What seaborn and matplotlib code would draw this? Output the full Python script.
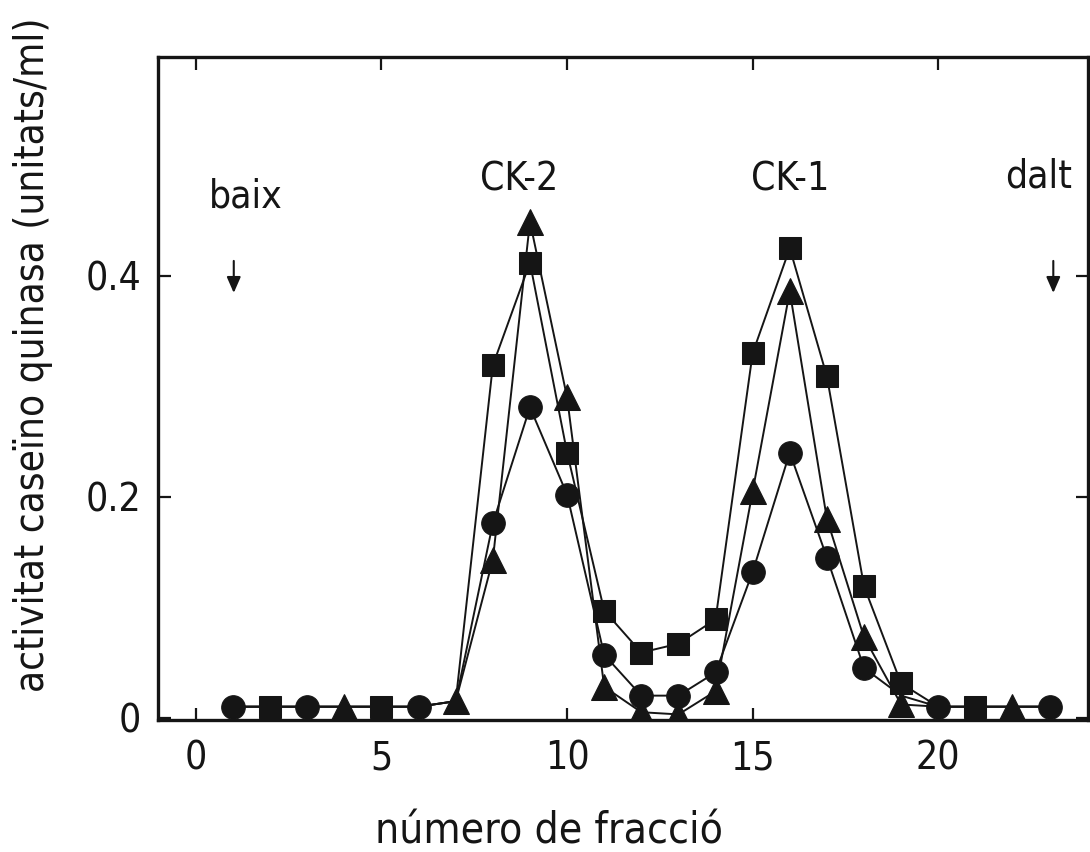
import matplotlib
matplotlib.use("Agg")
import matplotlib.pyplot as plt
import seaborn as sns
import pandas as pd
import numpy as np

# ---- data ----
fractions = list(range(1, 24))
quadrats = [0.010, 0.010, 0.010, 0.010, 0.010, 0.010, 0.015,
            0.319, 0.412, 0.240, 0.097, 0.059, 0.067, 0.089,
            0.330, 0.425, 0.309, 0.119, 0.031, 0.010, 0.010, 0.010, 0.010]
cercles = [0.010, 0.010, 0.010, 0.010, 0.010, 0.010, 0.015,
           0.176, 0.281, 0.202, 0.057, 0.020, 0.020, 0.041,
           0.132, 0.240, 0.145, 0.045, 0.020, 0.010, 0.010, 0.010, 0.010]
triangles = [0.010, 0.010, 0.010, 0.010, 0.010, 0.010, 0.015,
             0.143, 0.449, 0.290, 0.028, 0.005, 0.003, 0.024,
             0.205, 0.386, 0.180, 0.073, 0.012, 0.010, 0.010, 0.010, 0.010]
# fractions where each symbol is drawn (on the baseline only one symbol is shown)
punts_cercles = [1, 3, 6] + list(range(8, 19)) + [20, 23]
punts_quadrats = [2, 5] + list(range(8, 20)) + [21]
punts_triangles = [4, 7] + list(range(8, 20)) + [22]

xticks = [0, 5, 10, 15, 20]
yticks = [0, 0.2, 0.4]
ytick_labels = ["0", "0.2", "0.4"]
anotacions = [("baix", 1.35, 0.4715), ("CK-2", 8.7, 0.487), ("CK-1", 16.0, 0.487), ("dalt", 22.7, 0.490)]
fletxes = [1.02, 23.1]

sns.set_theme(style="ticks")
plt.rcParams['font.family'] = ['DejaVu Sans']
plt.rcParams['font.stretch'] = 'condensed'
ink = "#151515"

fig = plt.figure(figsize=(10.9, 8.52), dpi=100)
ax = fig.add_axes([0.145, 0.155, 0.853, 0.778])

df = pd.DataFrame({"fraccio": fractions, "quadrat": quadrats,
                   "cercle": cercles, "triangle": triangles})

series = [("cercle", "o", 17, punts_cercles),
          ("triangle", "^", 19, punts_triangles),
          ("quadrat", "s", 15.5, punts_quadrats)]
for col, mk, ms, pts in series:
    idx = [fractions.index(p) for p in pts]
    sns.lineplot(data=df, x="fraccio", y=col, ax=ax, color=ink, lw=1.4,
                 marker=mk, markersize=ms, markeredgecolor=ink,
                 markerfacecolor=ink, markevery=idx, sort=False)

ax.set_xlim(-1.02, 24.03)
ax.set_ylim(-0.002, 0.598)
ax.set_xticks(xticks)
ax.set_yticks(yticks)
ax.set_yticklabels(ytick_labels)
ax.tick_params(direction="in", length=9, width=1.6, color=ink,
               top=True, right=True, labelsize=28, labelcolor=ink)
ax.tick_params(axis="x", pad=14)
ax.tick_params(axis="y", pad=12)
for s in ax.spines.values():
    s.set_linewidth(2.4)
    s.set_color(ink)

ax.set_xlabel("número de fracció", fontsize=30.5, color=ink)
ax.xaxis.set_label_coords(0.42, -0.137)
ax.set_ylabel("activitat caseïno quinasa (unitats/ml)", fontsize=29, color=ink)
ax.yaxis.set_label_coords(-0.113, 0.551)

for txt, x, y in anotacions:
    ax.text(x, y, txt, fontsize=28, color=ink, ha="center", va="center")
for x in fletxes:
    ax.annotate("", xy=(x, 0.382), xytext=(x, 0.416),
                arrowprops=dict(arrowstyle="-|>,head_length=0.8,head_width=0.35",
                                color=ink, lw=1.5))

fig.savefig("out.png", dpi=100)
